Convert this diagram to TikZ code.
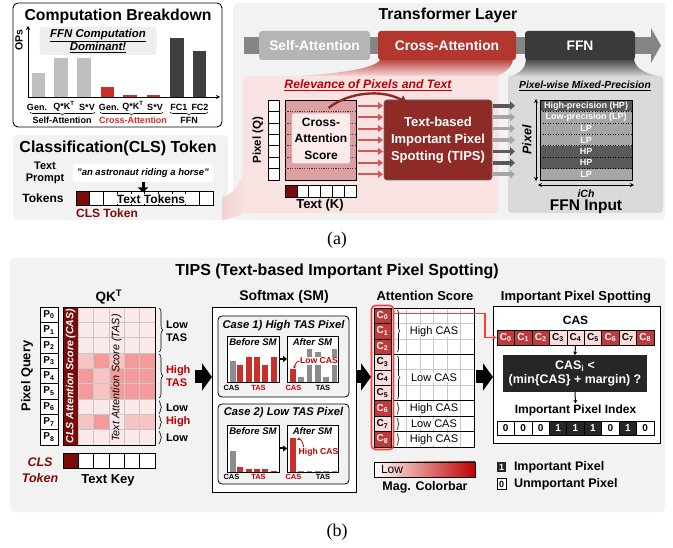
\documentclass[tikz,border=0pt]{standalone}
\usepackage{fontspec}
\setmainfont{Liberation Sans}
\newfontfamily\capfont{Liberation Serif}
\usetikzlibrary{arrows.meta,decorations.pathreplacing,calc}

\definecolor{panelgray}{HTML}{F2F2F2}
\definecolor{barlight}{HTML}{BFBFBF}
\definecolor{barred}{HTML}{C9302C}
\definecolor{bardark}{HTML}{3F3F3F}
\definecolor{selfgray}{HTML}{B5B5B5}
\definecolor{crossred}{HTML}{B4372F}
\definecolor{ffndark}{HTML}{3A3A3A}
\definecolor{bandgray}{HTML}{858585}
\definecolor{clsred}{HTML}{7A0B0B}
\definecolor{tipsred}{HTML}{8F2B26}
\definecolor{pinkpanel}{HTML}{F8E2E2}
\definecolor{scorered}{HTML}{DCA0A0}
\definecolor{scorelight}{HTML}{FBEBEB}
\definecolor{flowred}{HTML}{D05858}
\definecolor{hpgray}{HTML}{595959}
\definecolor{lpgray}{HTML}{A6A6A6}
\definecolor{ffnpanel}{HTML}{DADADA}
\definecolor{labelred}{HTML}{C00000}
\definecolor{hiTAS}{HTML}{F49A9A}
\definecolor{midTAS}{HTML}{F7C4C4}
\definecolor{loTAS}{HTML}{FBE9E9}
\definecolor{casdark}{HTML}{C13A3A}
\definecolor{caslight}{HTML}{FBDCDC}
\definecolor{ringred}{HTML}{FF3B3B}
\definecolor{condbox}{HTML}{262626}
\definecolor{smbar}{HTML}{8C8C8C}
\definecolor{gridc}{HTML}{C8C8C8}

\newcommand{\fsz}[2]{\fontsize{#1}{#2}\selectfont}

\begin{document}
\begin{tikzpicture}[x=1pt,y=-1pt,
  every node/.style={inner sep=0pt,outer sep=0pt},
  bf/.style={font=\bfseries},
  bfit/.style={font=\bfseries\itshape},
  brc/.style={decorate,decoration={brace,amplitude=#1},line width=0.6},
  brcm/.style={decorate,decoration={brace,amplitude=#1,mirror},line width=0.6},
  blockarrow/.style={line width=13,-{Triangle[length=10,width=27]}},
  smallarrow/.style={line width=1,-{Stealth[length=3.5,width=4]}},
]
\useasboundingbox (0,0) rectangle (673,548);
\fill[white] (0,0) rectangle (673,548);

%================ (a) Computation breakdown =================
\draw[line width=0.9,rounded corners=5,fill=white] (13,3) rectangle (222,127);
\node[bf] (cbt) at (118,16) {\fsz{15.8}{16}Computation Breakdown};
\node[fill=gray!13,rounded corners=3,minimum width=117,minimum height=28,align=center,font=\bfseries\itshape\fsz{11.4}{13}] (dom) at (98,41)
  {\underline{FFN Computation}\\\underline{Dominant!}};
% bars
\fill[barlight] (32,73) rectangle (45,97);
\fill[barlight] (54,58) rectangle (68,97);
\fill[barlight] (77,58) rectangle (91,97);
\fill[barred] (101,87) rectangle (114,97);
\fill[barred] (123,95.3) rectangle (137,97);
\fill[barred] (147,95.3) rectangle (160,97);
\fill[bardark] (170,38) rectangle (184,97);
\fill[bardark] (193,51) rectangle (206,97);
\coordinate (orig) at (28,97);
\draw[line width=0.7,-{Stealth[length=4,width=4]}] (orig) -- ++(0,-71);
\draw[line width=0.7,-{Stealth[length=4,width=4]}] (orig) -- ++(192,0);
\node[bf,rotate=90] (ops) at (19,40) {\fsz{10.5}{10.5}OPs};
\node[bf] (lb1) at (37,107) {\fsz{9}{9}Gen.};
\node[bf] (lb2) at (64,106) {\fsz{9}{9}Q*K\textsuperscript{T}};
\node[bf] (lb3) at (87,107) {\fsz{9}{9}S*V};
\node[bf] (lb4) at (109,107) {\fsz{9}{9}Gen.};
\node[bf] (lb5) at (133,106) {\fsz{9}{9}Q*K\textsuperscript{T}};
\node[bf] (lb6) at (155,107) {\fsz{9}{9}S*V};
\node[bf] (lb7) at (179,107) {\fsz{9}{9}FC1};
\node[bf] (lb8) at (200,107) {\fsz{9}{9}FC2};
\draw[brcm=3] (30,112) -- (95,112);
\draw[brcm=3] (100,112) -- (163,112);
\draw[brcm=3] (170,112) -- (208,112);
\node[bf] (gsa) at (62,120) {\fsz{9}{9}Self-Attention};
\node[bf,text=barred] (gca) at (133,120) {\fsz{9}{9}Cross-Attention};
\node[bf] (gffn) at (189,120) {\fsz{9}{9}FFN};

%================ (a) CLS token =================
\fill[panelgray,rounded corners=4] (13,135) rectangle (228,220);
\node[bf] (clst) at (118,148) {\fsz{16}{16}Classification(CLS) Token};
\node[align=center,font=\bfseries\fsz{11}{11.5}] (tprompt) at (45,173) {Text\\Prompt};
\node[fill=white,rounded corners=3,minimum width=140,minimum height=18,bfit] (prompt) at (143,173)
  {\fsz{9.5}{10}"an astronaut riding a horse"};
\node[bf] (tokl) at (43,198) {\fsz{12}{12}Tokens};
\foreach \i in {0,...,9}
  \node[draw,line width=0.6,fill=white,minimum width=13.7,minimum height=14] (tok\i) at ({76+13.7*(\i+0.5)},198.5) {};
\fill[clsred] (tok0.north west) rectangle (tok0.south east);
\draw[line width=0.6] (tok0.north west) rectangle (tok0.south east);
\draw[line width=3,-{Triangle[length=5,width=10]}] (prompt.south) -- ($(prompt.south |- tok5.north)+(0,1)$);
\node[bf,fill=white,inner sep=1] (ttok) at (151,199) {\fsz{12}{12}Text Tokens};
\node[bf,text=clsred] (clsl) at (107,213) {\fsz{12}{12}CLS Token};

%================ (a) Transformer layer =================
\fill[panelgray,rounded corners=4] (233,3) rectangle (665,220);
\node[bf] (tlt) at (448,15) {\fsz{15.8}{16}Transformer Layer};
\fill[bandgray] (244,37) rectangle (652,54);
\fill[bandgray] (651,28) -- (661,45.5) -- (651,63) -- cycle;
% funnels from the blocks down to their detail panels
\shade[top color=crossred,bottom color=pinkpanel]
  (381,58) -- (513,58) .. controls (513,68) and (503,73) .. (497,77) -- (285,77)
  .. controls (330,74) and (378,70) .. (381,58) -- cycle;
\shade[top color=ffndark,bottom color=ffnpanel]
  (526,58) -- (634,58) .. controls (634,70) and (650,75) .. (663,77) -- (508,77)
  .. controls (518,74) and (526,70) .. (526,58) -- cycle;
\shade[left color=crossred!22,right color=pinkpanel]
  (222,197) .. controls (233,195) and (239,185) .. (244,172) -- (244,213)
  .. controls (238,216) and (230,219) .. (222,220) -- cycle;
\node[fill=selfgray,rounded corners=3,minimum width=111,minimum height=29,text=white,bf] (sa) at (314.5,45.5) {\fsz{13.8}{14}Self-Attention};
\node[fill=crossred,rounded corners=3,minimum width=138,minimum height=29,text=white,bf] (ca) at (447,45.5) {\fsz{13.8}{14}Cross-Attention};
\node[fill=ffndark,rounded corners=3,minimum width=110,minimum height=29,text=white,bf] (ffn) at (580,45.5) {\fsz{13.8}{14}FFN};

% relevance panel
\node[fill=pinkpanel,rounded corners=3,minimum width=255,minimum height=137] (relp) at (370.5,144.5) {};
\node[bfit,text=labelred] (relt) at (368,85) {\fsz{12.2}{12.2}\underline{Relevance of Pixels and Text}};
\foreach \i in {0,...,6}
  \node[draw,line width=0.6,fill=white,minimum width=10.5,minimum height=11.43] (q\i) at (274,{100+11.43*(\i+0.5)}) {};
\node[bf,rotate=90] (pq) at (258,140) {\fsz{11.5}{11.5}Pixel (Q)};
\node[draw,line width=0.6,fill=scorered,minimum width=71,minimum height=80] (sm) at (320.5,140) {};
\foreach \i in {0,...,5}
  \draw[line width=0.5,black!75,dash pattern=on 1.2pt off 1.2pt] (sm.west |- q\i.south) -- (sm.east |- q\i.south);
\node[fill=scorelight,rounded corners=2,minimum width=58,minimum height=50,align=center,font=\bfseries\fsz{12}{16.5}] (cas) at (321,138.5)
  {Cross-\\Attention\\Score};
\foreach \k in {0,...,5}
  \node[draw,line width=0.6,fill=white,minimum width=11.83,minimum height=11.5] (tk\k) at ({285+11.83*(\k+0.5)},191.5) {};
\fill[clsred] (tk0.north west) rectangle (tk0.south east);
\draw[line width=0.6] (tk0.north west) rectangle (tk0.south east);
\node[bf] (tkl) at (320,205.5) {\fsz{13}{13}Text (K)};
\node[fill=tipsred,draw=black!60,line width=0.6,rounded corners=3,minimum width=108,minimum height=80,align=center,text=white,font=\bfseries\fsz{13}{17}] (tips) at (438,140)
  {Text-based\\Important Pixel\\Spotting (TIPS)};
\foreach \i in {0,...,6}
  \draw[flowred,line width=2,-{Triangle[length=5,width=7]}] ($(sm.east |- q\i)+(1.5,0)$) -- ($(tips.west |- q\i)+(-1,0)$);
\draw[tipsred,line width=2.4,-{Triangle[length=7,width=9]}] ($(sm.north)+(8,8)$)
  .. controls +(20,-16) and +(-25,-14) .. ($(tips.north west)+(23,3)$);

% FFN input panel
\node[fill=ffnpanel,rounded corners=4,minimum width=155,minimum height=137] (ffnp) at (585.5,144.5) {};
\node[bfit] (pmp) at (585,86) {\fsz{10.3}{10.3}\underline{Pixel-wise Mixed-Precision}};
\foreach \lab/\col [count=\i from 0] in {High-precision (HP)/hpgray,Low-precision (LP)/lpgray,LP/lpgray,LP/lpgray,HP/hpgray,HP/hpgray,LP/lpgray}
  \node[fill=\col,minimum width=92,minimum height=11.43,text=white,bf] (f\i) at (586,{100+11.43*(\i+0.5)}) {\fsz{9}{9}\lab};
\foreach \i in {0,...,5}
  \draw[line width=0.6,dotted] (f\i.south west) -- (f\i.south east);
\draw[line width=0.6] (f0.north west) rectangle (f6.south east);
\foreach \col [count=\i from 0] in {hpgray,lpgray,lpgray,lpgray,hpgray,hpgray,lpgray}
  \draw[\col,line width=3.6,-{Triangle[length=5,width=8.5]}] ($(tips.east |- q\i)+(0.5,0)$) -- ($(ffnp.west |- q\i)+(7,0)$);
\draw[line width=0.7,{Stealth[length=4,width=4]}-{Stealth[length=4,width=4]}] ($(f0.north west)+(-4,-1)$) -- ($(f6.south west)+(-4,1)$);
\draw[line width=0.7,{Stealth[length=4,width=4]}-{Stealth[length=4,width=4]}] ($(f6.south west)+(-2,5)$) -- ($(f6.south east)+(2,5)$);
\node[bfit,rotate=90] (pixl) at (527,140) {\fsz{12.5}{12.5}Pixel};
\node[bfit] (ich) at (586,194) {\fsz{10.5}{10.5}iCh};
\node[bf] (ffnin) at (586,207) {\fsz{15.5}{15.5}FFN Input};

\node[font=\capfont] (capa) at (337,240) {\fsz{18}{18}(a)};

%================ (b) TIPS =================
\fill[panelgray,rounded corners=4] (10,258) rectangle (665,512);
\node[bf] (tipst) at (337,271) {\fsz{16}{16}TIPS (Text-based Important Pixel Spotting)};

% QK^T matrix
\node[bf] (qkt) at (109,297) {\fsz{13.5}{13.5}QK\textsuperscript{T}};
\foreach \i in {0,...,8}
  \node[draw,line width=0.6,fill=white,minimum width=18,minimum height=15.33,bf] (p\i) at (49,{307+15.33*(\i+0.5)}) {\fsz{10}{10}P\textsubscript{\i}};
\node[bf,rotate=90] (pqy) at (27,376) {\fsz{12.8}{12.8}Pixel Query};
\node[minimum width=92,minimum height=138] (qk) at (109,376) {};
\foreach \rowcols [count=\r from 0] in {
  {loTAS,loTAS,loTAS,loTAS,loTAS},{loTAS,loTAS,loTAS,loTAS,loTAS},{loTAS,loTAS,loTAS,loTAS,loTAS},
  {midTAS,hiTAS,midTAS,hiTAS,hiTAS},{hiTAS,midTAS,hiTAS,hiTAS,hiTAS},{hiTAS,midTAS,hiTAS,hiTAS,hiTAS},
  {loTAS,loTAS,loTAS,loTAS,loTAS},{midTAS,hiTAS,loTAS,midTAS,midTAS},{loTAS,loTAS,loTAS,loTAS,loTAS}}{
  \foreach \cc [count=\k from 1] in \rowcols {
    \fill[\cc] ({63+15.33*\k},{307+15.33*\r}) rectangle ++(15.33,15.33);
  }
}
\foreach \k in {1,...,5} \draw[gridc,line width=0.8] ({63+15.33*\k},307) -- ++(0,138);
\foreach \r in {1,...,8} \draw[gridc,line width=0.8] (78.33,{307+15.33*\r}) -- (155,{307+15.33*\r});
\fill[clsred] (63,307) rectangle (78.33,445);
\draw[line width=0.7] (qk.north west) rectangle (qk.south east);
\node[bfit,rotate=90,text=white] (cast) at (70.7,376) {\fsz{10.5}{10.5}CLS Attention Score (CAS)};
\node[font=\itshape,rotate=90] (tast) at (116.7,378) {\fsz{10.8}{10.8}Text Attention Score (TAS)};
\foreach \k in {0,...,5}
  \node[draw,line width=0.6,fill=white,minimum width=15.33,minimum height=15] (qtk\k) at ({63+15.33*(\k+0.5)},460.5) {};
\fill[clsred] (qtk0.north west) rectangle (qtk0.south east);
\draw[line width=0.6] (qtk0.north west) rectangle (qtk0.south east);
\node[text=clsred,align=center,font=\bfseries\itshape\fsz{12.5}{16}] (clstk) at (40,470) {CLS\\Token};
\node[bf] (tkey) at (108,480) {\fsz{13}{13}Text Key};
\draw[brc=4] (159,308) -- (159,352);
\draw[brc=4] (159,354) -- (159,398);
\draw[brc=2.5] (159,400.5) -- (159,414);
\draw[brc=2.5] (159,415.5) -- (159,429);
\draw[brc=2.5] (159,431) -- (159,444);
\node[align=left,anchor=west,font=\bfseries\fsz{11}{13}] (lowtas) at (166,331.5) {Low\\TAS};
\node[align=left,anchor=west,text=labelred,font=\bfseries\fsz{11}{13}] (hightas) at (166,376.5) {High\\TAS};
\node[bf,anchor=west] (low6) at (166,407.5) {\fsz{11}{11}Low};
\node[bf,anchor=west,text=labelred] (high7) at (166,422) {\fsz{11}{11}High};
\node[bf,anchor=west] (low8) at (166,437.5) {\fsz{11}{11}Low};

% Softmax
\node[bf] (smt) at (284,297) {\fsz{14}{14}Softmax (SM)};
\node[draw,line width=0.8,fill=white,minimum width=144,minimum height=185] (smbox) at (284,399.5) {};
\coordinate (ba1) at (195,377);
\draw[blockarrow] (ba1) -- (smbox.west |- ba1);

\node[draw,line width=0.8,fill=panelgray,rounded corners=4,minimum width=131,minimum height=81] (case1) at (283.5,356.5) {};
\node[bfit] (c1t) at (283.5,325.5) {\fsz{11.2}{11.2}Case 1) High TAS Pixel};
\node[draw,line width=0.6,fill=white,minimum width=52,minimum height=46] (bef1) at (253,359) {};
\node[draw,line width=0.6,fill=white,minimum width=51,minimum height=46] (aft1) at (312.5,359) {};
\node[bfit] (bef1t) at (253,342.5) {\fsz{9.6}{9.6}Before SM};
\node[bfit] (aft1t) at (312.5,342.5) {\fsz{9.6}{9.6}After SM};
\fill[smbar] (230,360.7) rectangle (235.7,382);
\fill[barred] (237.3,365) rectangle (243.3,382);
\fill[barred] (245.7,356.7) rectangle (251.7,382);
\fill[barred] (254.3,357.3) rectangle (260,382);
\fill[barred] (262.3,365) rectangle (268.3,382);
\fill[barred] (270.7,356.7) rectangle (276.7,382);
\fill[barred] (290,369.3) rectangle (295.7,382);
\fill[smbar] (298.3,377.3) rectangle (304,382);
\fill[smbar] (306.7,349) rectangle (312.3,382);
\fill[smbar] (315,351.7) rectangle (320.7,382);
\fill[smbar] (323.3,377.3) rectangle (329,382);
\fill[smbar] (331.7,349) rectangle (337.3,382);
\draw[line width=0.6] (bef1.north west) rectangle (bef1.south east);
\draw[line width=0.6] (aft1.north west) rectangle (aft1.south east);
\node[bf,text=labelred,fill=white,inner sep=0.6] (lowcas) at (319,361) {\fsz{8.6}{8.6}Low CAS};
\draw[labelred,line width=0.8,-{Stealth[length=3,width=3]}] (lowcas.west) to[out=180,in=60] (293.5,368.5);
\draw[line width=2,-{Triangle[length=4,width=6]}] (bef1.east) -- (aft1.west);
\node[bf] (l1a) at (231.5,387.5) {\fsz{7.5}{7.5}CAS};
\node[bf,text=labelred] (l1b) at (258.5,387.5) {\fsz{7.5}{7.5}TAS};
\node[bf,text=labelred] (l1c) at (293.5,387.5) {\fsz{7.5}{7.5}CAS};
\node[bf] (l1d) at (323,387.5) {\fsz{7.5}{7.5}TAS};

\node[draw,line width=0.8,fill=panelgray,rounded corners=4,minimum width=131,minimum height=80] (case2) at (283.5,444) {};
\node[bfit] (c2t) at (283.5,413) {\fsz{11.2}{11.2}Case 2) Low TAS Pixel};
\node[draw,line width=0.6,fill=white,minimum width=52,minimum height=47] (bef2) at (253,448.5) {};
\node[draw,line width=0.6,fill=white,minimum width=51,minimum height=47] (aft2) at (312.5,448.5) {};
\node[bfit] (bef2t) at (253,431.5) {\fsz{9.6}{9.6}Before SM};
\node[bfit] (aft2t) at (312.5,431.5) {\fsz{9.6}{9.6}After SM};
\fill[smbar] (230,450.7) rectangle (235.7,472);
\fill[barred] (237.3,467.3) rectangle (243.3,472);
\fill[barred] (245.7,469) rectangle (251.7,472);
\fill[barred] (254.3,468.5) rectangle (260,472);
\fill[barred] (262.3,468.5) rectangle (268.3,472);
\fill[barred] (270.7,470.7) rectangle (276.7,472);
\fill[barred] (290,438.3) rectangle (295.7,472);
\foreach \x in {298.3,306.7,315,323.3,331.7}
  \fill[smbar] (\x,470.8) rectangle ++(5.7,1.2);
\draw[line width=0.6] (bef2.north west) rectangle (bef2.south east);
\draw[line width=0.6] (aft2.north west) rectangle (aft2.south east);
\node[bf,text=labelred] (highcas) at (318.5,452.5) {\fsz{8.6}{8.6}High CAS};
\draw[labelred,line width=0.8,-{Stealth[length=3,width=3]}] ($(highcas.north west)+(5,-1.5)$) to[out=100,in=20] (297,439.5);
\draw[line width=2,-{Triangle[length=4,width=6]}] (bef2.east) -- (aft2.west);
\node[bf] (l2a) at (231.5,477) {\fsz{7.5}{7.5}CAS};
\node[bf,text=labelred] (l2b) at (258.5,477) {\fsz{7.5}{7.5}TAS};
\node[bf,text=labelred] (l2c) at (293.5,477) {\fsz{7.5}{7.5}CAS};
\node[bf] (l2d) at (323,477) {\fsz{7.5}{7.5}TAS};

% Attention score
\node[bf] (ast) at (425,296) {\fsz{13}{13}Attention Score};
\fill[white] (393,308) rectangle (474,447);
\foreach \k in {1,...,5} \draw[gridc,line width=0.6] ({393+13.5*\k},308) -- ++(0,139);
\foreach \r in {1,...,8} \draw[gridc,line width=0.6] (393,{308+15.44*\r}) -- (474,{308+15.44*\r});
\foreach \a/\b in {0/3,3/6,6/7,7/8,8/9}
  \draw[line width=0.7] (393,{308+15.44*\a}) rectangle (474,{308+15.44*\b});
\foreach \fc/\tc [count=\i from 0] in {casdark/white,casdark/white,casdark/white,caslight/black,caslight/black,caslight/black,casdark/white,caslight/black,casdark/white}
  \node[draw=black,line width=0.4,fill=\fc,text=\tc,minimum width=17,minimum height=15.44,bf] (ac\i) at (382.5,{308+15.44*(\i+0.5)}) {\fsz{10}{10}C\textsubscript{\i}};
\draw[ringred,line width=1.6,rounded corners=4] ($(ac0.north west)+(-2.5,-2.5)$) rectangle ($(ac8.south east)+(2.5,2.5)$);
\draw[brc=3] (397,310) -- (397,352);
\draw[brc=3] (397,356) -- (397,399);
\draw[brc=2] (397,402.5) -- (397,414.5);
\draw[brc=2] (397,418) -- (397,430);
\draw[brc=2] (397,433.5) -- (397,445.5);
\node[fill=white,inner sep=1] (g1) at (434,331.2) {\fsz{11}{11}High CAS};
\node[fill=white,inner sep=1] (g2) at (434,377.5) {\fsz{11}{11}Low CAS};
\node[fill=white,inner sep=1] (g3) at (434,408.4) {\fsz{11}{11}High CAS};
\node[fill=white,inner sep=1] (g4) at (434,423.8) {\fsz{11}{11}Low CAS};
\node[fill=white,inner sep=1] (g5) at (434,439.2) {\fsz{11}{11}High CAS};
\coordinate (ba2) at (357,377);
\draw[blockarrow] (ba2) -- ($(ac0.west |- ba2)+(-3,0)$);
\node[draw,line width=0.6,minimum width=101,minimum height=15,left color=white,right color=labelred] (cbar) at (424.5,469.5) {};
\node[anchor=west] (cblow) at (381,469.5) {\fsz{12}{12}Low};
\node[bf] (cbart) at (425,487) {\fsz{12.5}{12.5}Mag. Colorbar};

% Important pixel spotting
\node[bf] (ipst) at (576,297) {\fsz{13}{13}Important Pixel Spotting};
\node[draw,line width=0.8,fill=white,minimum width=167,minimum height=137] (ipsbox) at (576.5,374.5) {};
\coordinate (ba3) at (476,377);
\draw[blockarrow] (ba3) -- (ipsbox.west |- ba3);
\node[bf] (ipcas) at (575.5,320) {\fsz{12}{12}CAS};
\foreach \fc/\tc [count=\i from 0] in {casdark/white,casdark/white,casdark/white,caslight/black,caslight/black,caslight/black,casdark/white,caslight/black,casdark/white}
  \node[draw=black,line width=0.4,fill=\fc,text=\tc,minimum width=17.44,minimum height=15,bf] (ip\i) at ({497+17.44*(\i+0.5)},337.5) {\fsz{10}{10}C\textsubscript{\i}};
\draw[ringred,line width=1.2,-{Stealth[length=5,width=4.5]}] ($(ac0.east)+(2.5,-2.5)$) -- ($(ip0.west |- ac0.east)+(-12,-2.5)$) |- (ip0.west);
\node[fill=condbox,minimum width=144,minimum height=37,text=white,align=center,font=\bfseries\fsz{12.4}{14.5}] (cond) at (575,373.5)
  {CAS\textsubscript{i} <\\(min\{CAS\} + margin) ?};
\node[bf] (ipi) at (575.5,410) {\fsz{12}{12}Important Pixel Index};
\draw[smallarrow] (ip4.south) -- (cond.north);
\draw[smallarrow] (cond.south) -- ($(ipi.north)+(0,-1)$);
\foreach \v/\fc/\tc [count=\i from 0] in {0/white/black,0/white/black,0/white/black,1/condbox/white,1/condbox/white,1/condbox/white,0/white/black,1/condbox/white,0/white/black}
  \node[draw=black,line width=0.6,fill=\fc,text=\tc,minimum width=17.44,minimum height=14,bf] (ix\i) at ({497+17.44*(\i+0.5)},428) {\fsz{10}{10}\v};
\node[fill=condbox,text=white,minimum width=9,minimum height=10.5,bf] (lg1) at (501.5,467) {\fsz{9}{9}1};
\node[draw,line width=0.6,fill=white,minimum width=9,minimum height=10.5,bf] (lg0) at (501.5,484) {\fsz{9}{9}0};
\node[bf,anchor=west] (lg1t) at (514,467) {\fsz{12.5}{12.5}Important Pixel};
\node[bf,anchor=west] (lg0t) at (514,484) {\fsz{12.5}{12.5}Unmportant Pixel};

\node[font=\capfont] (capb) at (337,532) {\fsz{18}{18}(b)};
\end{tikzpicture}
\end{document}
